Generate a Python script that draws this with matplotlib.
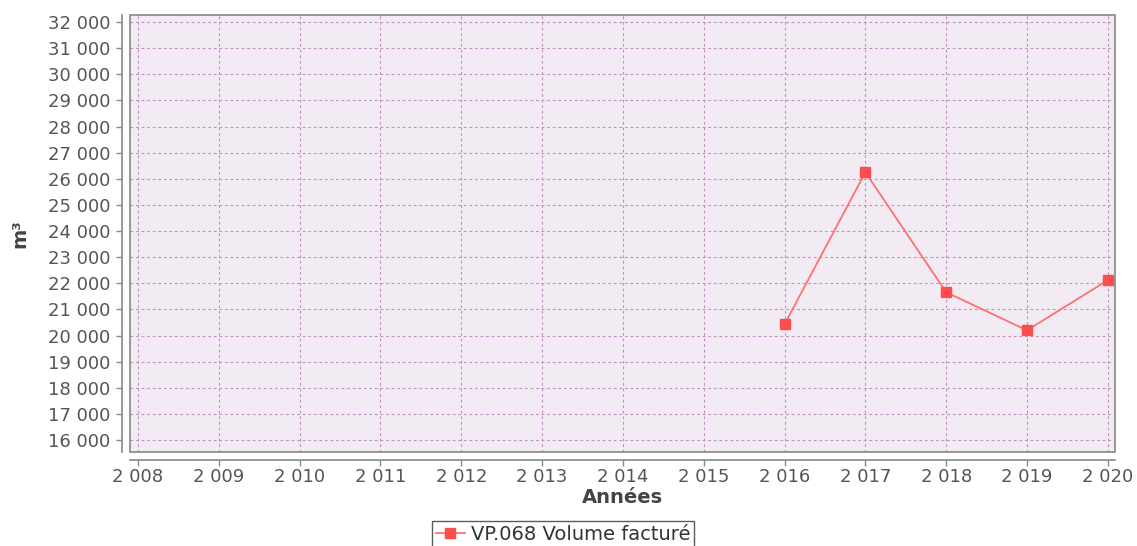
import matplotlib
matplotlib.use("Agg")
import matplotlib.pyplot as plt
from matplotlib.ticker import FuncFormatter, MultipleLocator
from matplotlib.patches import Rectangle

plt.rcParams["font.family"] = ["DejaVu Sans"]

years = [2016, 2017, 2018, 2019, 2020]
volumes = [20430, 26250, 21660, 20200, 22120]
series_name = "VP.068 Volume facturé"
x_label = "Années"
y_label = "m³"

fig = plt.figure(figsize=(11.37, 5.46), dpi=100)
ax = fig.add_axes([0.1143, 0.172, 0.8664, 0.8005])
ax.set_facecolor("#f3ebf3")

ax.plot(years, volumes, color="#ff7070", lw=1.3, marker="s", markersize=7,
        markerfacecolor="#ff4d4d", markeredgecolor="#ff4d4d", label=series_name,
        zorder=3)

ax.set_xlim(2007.9, 2020.09)
ax.set_ylim(15540, 32270)
ax.xaxis.set_major_locator(MultipleLocator(1))
ax.yaxis.set_major_locator(MultipleLocator(1000))

def sp(v, pos):
    s = f"{int(round(v)):,}".replace(",", " ")
    return s
ax.xaxis.set_major_formatter(FuncFormatter(sp))
ax.yaxis.set_major_formatter(FuncFormatter(sp))

ax.grid(True, color="#c090c0", linestyle=(0, (2.5, 2.5)), linewidth=0.8)
ax.set_axisbelow(True)

for s in ["top", "right"]:
    ax.spines[s].set_visible(False)
for s in ["left", "bottom"]:
    ax.spines[s].set_position(("outward", 6))
    ax.spines[s].set_color("#888888")
    ax.spines[s].set_linewidth(1.2)

ax.add_patch(Rectangle((0, 0), 1, 1, transform=ax.transAxes, fill=False,
                       edgecolor="#888888", lw=1.2, zorder=4, clip_on=False))

ax.tick_params(axis="both", colors="#888888", labelcolor="#555555",
               labelsize=13, length=4, width=1)
ax.tick_params(axis="y", pad=4)
ax.tick_params(axis="x", pad=1.5)

ax.set_xlabel(x_label, fontsize=14, fontweight="bold", color="#444444")
ax.set_ylabel(y_label, fontsize=14, fontweight="bold", color="#444444")
ax.xaxis.set_label_coords(0.5, -0.082)
ax.yaxis.set_label_coords(-0.1117, 0.5)
ax.yaxis.label.set_verticalalignment("center")

leg = fig.legend(loc="upper center", bbox_to_anchor=(0.495, 0.046), ncol=1,
                 fontsize=14, frameon=True, fancybox=False, handlelength=1.5,
                 borderpad=0.2, handletextpad=0.3, labelcolor="#333333",
                 borderaxespad=0)
leg.get_frame().set_edgecolor("#333333")
leg.get_frame().set_linewidth(1.0)

fig.savefig("out.png", dpi=100)
